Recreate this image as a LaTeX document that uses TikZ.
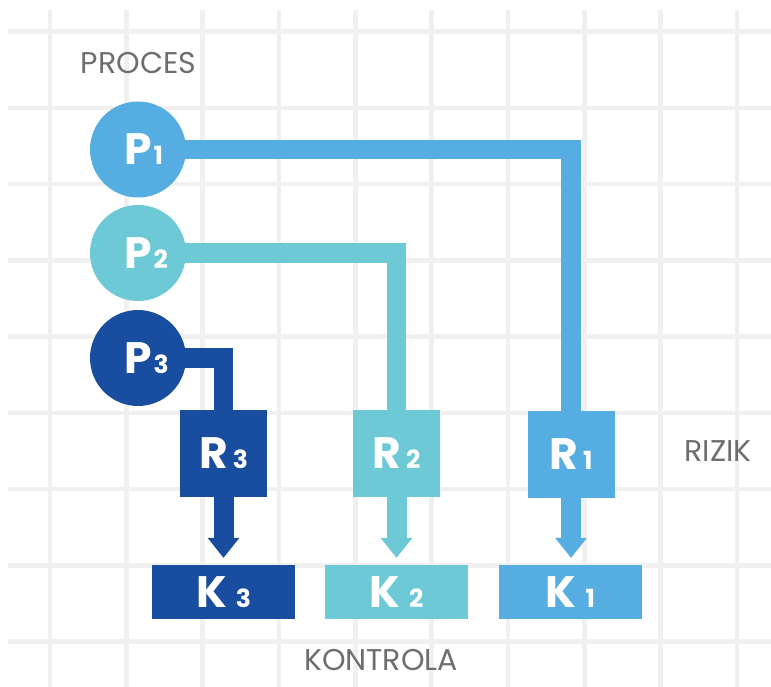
\documentclass[tikz,border=0pt]{standalone}
\usepackage{fontspec}
\setmainfont{Poppins}
\usetikzlibrary{arrows.meta,calc}
\pgfdeclarelayer{bg}
\pgfdeclarelayer{mid}
\pgfsetlayers{bg,mid,main}
\definecolor{blueA}{HTML}{56ADE2}
\definecolor{tealB}{HTML}{6DC9D6}
\definecolor{navyC}{HTML}{184DA0}
\definecolor{gridgray}{HTML}{F0F0F0}
\definecolor{labelgray}{HTML}{6E6E6E}
\newcommand{\bigsym}[2]{{\bfseries\fontsize{44}{44}\selectfont #1\fontsize{25}{25}\selectfont #2}}
\begin{document}
\begin{tikzpicture}[x=1pt,y=-1pt,
  gridline/.style={draw=gridgray,line width=4.5pt},
  proc/.style={circle,minimum size=96pt,inner sep=0pt,fill=#1,text=white},
  risk/.style={minimum width=87pt,minimum height=87pt,inner sep=0pt,fill=#1,text=white},
  ctrl/.style={minimum width=143pt,minimum height=54pt,inner sep=0pt,fill=#1,text=white},
  link/.style={draw=#1,line width=19.5pt,line join=miter,line cap=butt},
  flow/.style={draw=#1,line width=20pt,shorten >=7pt,
    -{Triangle[length=20pt,width=32pt,line width=0pt]}},
  lbl/.style={inner sep=0pt,text=labelgray,font=\fontsize{30}{30}\selectfont}]
\useasboundingbox (0,0) rectangle (771,687);

% background grid
\begin{pgfonlayer}{bg}
  \fill[white] (0,0) rectangle (771,687);
  \foreach \i in {0,...,9}
    \draw[gridline] ({50+76.33*\i},10) -- ({50+76.33*\i},687);
  \foreach \j in {0,...,8}
    \draw[gridline] (8,{31.7+76.25*\j}) -- (771,{31.7+76.25*\j});
\end{pgfonlayer}

% processes
\node[proc=blueA] (P1) at (138,149.5) {\bigsym{P}{\rlap{\hspace{2pt}1}}};
\node[proc=tealB] (P2) at (138,253) {\bigsym{P}{\rlap{\hspace{2pt}2}}};
\node[proc=navyC] (P3) at (138,358) {\bigsym{P}{\rlap{\hspace{2pt}3}}};

% risks
\node[risk=navyC] (R3) at (223.5,453.5) {\bigsym{R}{\hspace{5pt}3}};
\node[risk=tealB] (R2) at (396.5,453.5) {\bigsym{R}{\hspace{5pt}2}};
\node[risk=blueA] (R1) at (571,454) {\bigsym{R}{\hspace{5pt}1}};

% controls
\node[ctrl=navyC] (K3) at (223.5,592) {\bigsym{K}{\hspace{9pt}3\hspace{16pt}}};
\node[ctrl=tealB] (K2) at (396.5,592) {\bigsym{K}{\hspace{9pt}2\hspace{16pt}}};
\node[ctrl=blueA] (K1) at (570.5,592) {\bigsym{K}{\hspace{9pt}1\hspace{16pt}}};

% process-to-risk links
\begin{pgfonlayer}{mid}
  \draw[link=blueA] (P1.center) -- (P1.center -| R1.center) -- (R1.center);
  \draw[link=tealB] (P2.center) -- (P2.center -| R2.center) -- (R2.center);
  \draw[link=navyC] (P3.center) -- (P3.center -| R3.center) -- (R3.center);
\end{pgfonlayer}

% risk-to-control arrows
\draw[flow=navyC] (R3.south) -- (R3.south |- K3.north);
\draw[flow=tealB] (R2.south) -- (R2.south |- K2.north);
\draw[flow=blueA] (R1.south) -- (R1.south |- K1.north);

% captions
\node[lbl] (proces) at (138.5,63.5) {PROCES};
\node[lbl] (rizik) at (718,451) {RIZIK};
\node[lbl] (kontrola) at (381,660) {KONTROLA};
\end{tikzpicture}
\end{document}
